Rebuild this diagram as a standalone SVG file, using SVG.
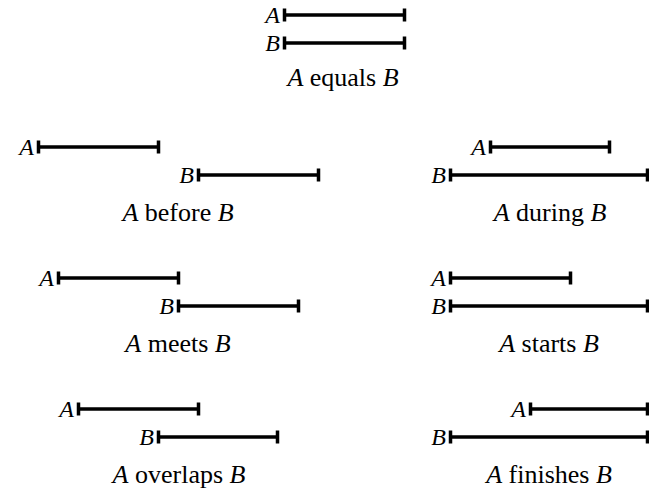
<svg xmlns="http://www.w3.org/2000/svg" width="649" height="494" viewBox="0 0 649 494">
<rect width="649" height="494" fill="#fff"/>
<g id="equals">
<path d="M284.5 15H404.5M284.5 43H404.5" stroke="#000" stroke-width="3.5" fill="none"/>
<path d="M284.5 8.5V21.5M404.5 8.5V21.5M284.5 36.5V49.5M404.5 36.5V49.5" stroke="#000" stroke-width="3.5" fill="none"/>
<text x="280" y="23" font-family="serif" font-size="24" font-style="italic" text-anchor="end">A</text>
<text x="280" y="51" font-family="serif" font-size="24" font-style="italic" text-anchor="end">B</text>
<text x="343" y="86" font-family="serif" font-size="26" text-anchor="middle"><tspan font-style="italic">A</tspan> equals <tspan font-style="italic">B</tspan></text>
</g>
<g id="before">
<path d="M38.5 147H158.5M198.5 175H318.5" stroke="#000" stroke-width="3.5" fill="none"/>
<path d="M38.5 140.5V153.5M158.5 140.5V153.5M198.5 168.5V181.5M318.5 168.5V181.5" stroke="#000" stroke-width="3.5" fill="none"/>
<text x="34" y="155" font-family="serif" font-size="24" font-style="italic" text-anchor="end">A</text>
<text x="194" y="183" font-family="serif" font-size="24" font-style="italic" text-anchor="end">B</text>
<text x="178" y="221" font-family="serif" font-size="26" text-anchor="middle"><tspan font-style="italic">A</tspan> before <tspan font-style="italic">B</tspan></text>
</g>
<g id="during">
<path d="M490.5 147H609.5M450.5 175H648" stroke="#000" stroke-width="3.5" fill="none"/>
<path d="M490.5 140.5V153.5M609.5 140.5V153.5M450.5 168.5V181.5M647.5 168.5V181.5" stroke="#000" stroke-width="3.5" fill="none"/>
<text x="486" y="155" font-family="serif" font-size="24" font-style="italic" text-anchor="end">A</text>
<text x="446" y="183" font-family="serif" font-size="24" font-style="italic" text-anchor="end">B</text>
<text x="550" y="221" font-family="serif" font-size="26" text-anchor="middle"><tspan font-style="italic">A</tspan> during <tspan font-style="italic">B</tspan></text>
</g>
<g id="meets">
<path d="M58.5 278H178.5M178.5 306H298.5" stroke="#000" stroke-width="3.5" fill="none"/>
<path d="M58.5 271.5V284.5M178.5 271.5V284.5M178.5 299.5V312.5M298.5 299.5V312.5" stroke="#000" stroke-width="3.5" fill="none"/>
<text x="54" y="286" font-family="serif" font-size="24" font-style="italic" text-anchor="end">A</text>
<text x="174" y="314" font-family="serif" font-size="24" font-style="italic" text-anchor="end">B</text>
<text x="178" y="352" font-family="serif" font-size="26" text-anchor="middle"><tspan font-style="italic">A</tspan> meets <tspan font-style="italic">B</tspan></text>
</g>
<g id="starts">
<path d="M450.5 278H570.5M450.5 306H648" stroke="#000" stroke-width="3.5" fill="none"/>
<path d="M450.5 271.5V284.5M570.5 271.5V284.5M450.5 299.5V312.5M647.5 299.5V312.5" stroke="#000" stroke-width="3.5" fill="none"/>
<text x="446" y="286" font-family="serif" font-size="24" font-style="italic" text-anchor="end">A</text>
<text x="446" y="314" font-family="serif" font-size="24" font-style="italic" text-anchor="end">B</text>
<text x="549" y="352" font-family="serif" font-size="26" text-anchor="middle"><tspan font-style="italic">A</tspan> starts <tspan font-style="italic">B</tspan></text>
</g>
<g id="overlaps">
<path d="M78.5 409H198.5M158.5 437H277.5" stroke="#000" stroke-width="3.5" fill="none"/>
<path d="M78.5 402.5V415.5M198.5 402.5V415.5M158.5 430.5V443.5M277.5 430.5V443.5" stroke="#000" stroke-width="3.5" fill="none"/>
<text x="74" y="417" font-family="serif" font-size="24" font-style="italic" text-anchor="end">A</text>
<text x="154" y="445" font-family="serif" font-size="24" font-style="italic" text-anchor="end">B</text>
<text x="179" y="483" font-family="serif" font-size="26" text-anchor="middle"><tspan font-style="italic">A</tspan> overlaps <tspan font-style="italic">B</tspan></text>
</g>
<g id="finishes">
<path d="M530.5 409H648M450.5 437H648" stroke="#000" stroke-width="3.5" fill="none"/>
<path d="M530.5 402.5V415.5M647.5 402.5V415.5M450.5 430.5V443.5M647.5 430.5V443.5" stroke="#000" stroke-width="3.5" fill="none"/>
<text x="526" y="417" font-family="serif" font-size="24" font-style="italic" text-anchor="end">A</text>
<text x="446" y="445" font-family="serif" font-size="24" font-style="italic" text-anchor="end">B</text>
<text x="549" y="483" font-family="serif" font-size="26" text-anchor="middle"><tspan font-style="italic">A</tspan> finishes <tspan font-style="italic">B</tspan></text>
</g>
<g id="connectors"></g>
</svg>
